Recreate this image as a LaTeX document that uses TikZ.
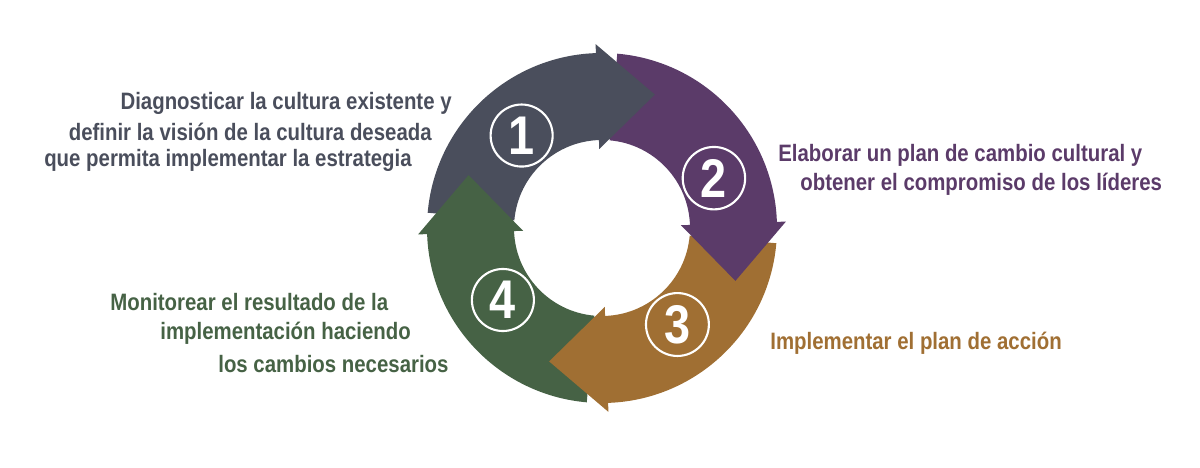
\documentclass[tikz,border=0pt]{standalone}
\usepackage{fontspec}
\setmainfont{Liberation Sans}[FakeStretch=0.86]
\usetikzlibrary{calc}
\definecolor{slate}{HTML}{4A4E5C}
\definecolor{plum}{HTML}{5B3B69}
\definecolor{ochre}{HTML}{A06F33}
\definecolor{moss}{HTML}{466245}
\begin{document}
\begin{tikzpicture}[
  txt/.style={font=\bfseries\fontsize{13.5}{16.5}\selectfont, inner sep=0pt},
  num/.style={draw=white, very thick, circle, minimum size=12mm, text=white, font=\bfseries\fontsize{31}{31}\selectfont}
]
\useasboundingbox (0,0) rectangle (24,9.36);
\coordinate (C) at (12.04,4.80);
% ring bodies
\foreach \t/\b/\c in {175/92/slate, 85/2/plum, -5/-88/ochre, -95/-178/moss}
  \fill[\c] ($(C)+(\t:3.5)$) arc[start angle=\t, end angle=\b-1, radius=3.5]
    -- ($(C)+(\b-1:1.76)$) arc[start angle=\b-1, end angle=\t, radius=1.76] -- cycle;
% heads
\foreach \b/\c in {92/slate, 2/plum, -88/ochre, -178/moss}
  \fill[\c] ($(C)+(\b:3.68)$) -- ($(C)+(\b:2.63)+(\b-90:1.15)$) -- ($(C)+(\b:1.58)$) -- cycle;
% numbers
\node[num] (n1) at ($(C)+(131:2.45)$) {1};
\node[num] (n2) at ($(C)+(24:2.45)$) {2};
\node[num] (n3) at ($(C)+(-52:2.45)$) {3};
\node[num] (n4) at ($(C)+(216:2.45)$) {4};
% labels
\node[txt, slate, anchor=east] (t1a) at (9.04,7.30) {Diagnosticar la cultura existente y};
\node[txt, slate, anchor=east] (t1b) at (8.64,6.72) {definir la visión de la cultura deseada};
\node[txt, slate, anchor=east] (t1c) at (8.24,6.16) {que permita implementar la estrategia};
\node[txt, plum, anchor=west] (t2a) at (15.56,6.26) {Elaborar un plan de cambio cultural y};
\node[txt, plum, anchor=west] (t2b) at (16.0,5.68) {obtener el compromiso de los líderes};
\node[txt, ochre, anchor=west] (t3) at (15.4,2.50) {Implementar el plan de acción};
\node[txt, moss, anchor=west] (t4a) at (2.2,3.32) {Monitorear el resultado de la};
\node[txt, moss, anchor=west] (t4b) at (3.2,2.70) {implementación haciendo};
\node[txt, moss, anchor=west] (t4c) at (4.36,2.08) {los cambios necesarios};
\end{tikzpicture}
\end{document}
